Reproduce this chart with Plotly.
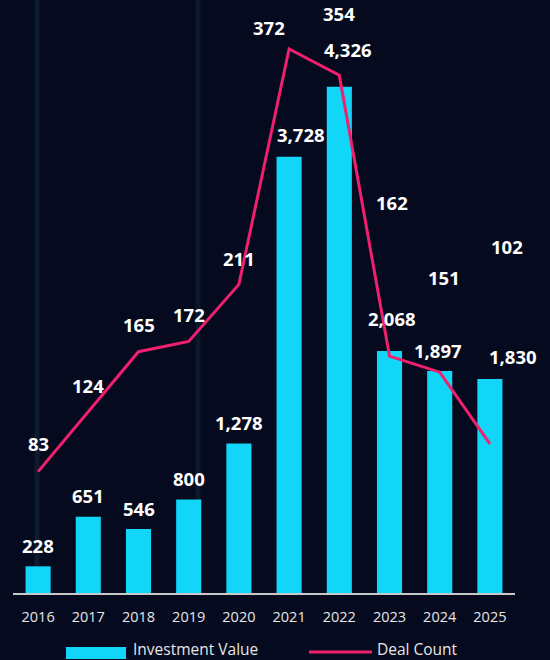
import plotly.graph_objects as go

# ---- data ----
years = ["2016", "2017", "2018", "2019", "2020", "2021", "2022", "2023", "2024", "2025"]
investment_value = [228, 651, 546, 800, 1278, 3728, 4326, 2068, 1897, 1830]
deal_count = [83, 124, 165, 172, 211, 372, 354, 162, 151, 102]

# ---- label placement tweaks (pixels) ----
bar_label_dx = [0, 0, 0, 0, 0, 12, 9, 2, -2, 23]
bar_label_dy = [21, 21, 21, 21, 21, 22, 37, 33, 21, 22]
line_label_dx = [0, 0, 0, 0, 0, -20, 0, 2, 4, 17]
line_label_dy = [28, 26, 27, 27, 26, 21, 62, 154, 95, 197]

BG = "#050a1e"
CYAN = "#12d6f7"
PINK = "#f0206e"
FONT = "Open Sans"
LABEL_SIZE = 18.5

W, H = 550, 660
ML, MR, MT, MB = 13, 35, 8, 67
PW, PH = W - ML - MR, H - MT - MB

def px(xp):
    return (xp - ML) / PW

def py(yp):
    return (H - MB - yp) / PH

fig = go.Figure()
fig.add_trace(go.Bar(
    x=years, y=investment_value, name="Investment Value",
    marker=dict(color=CYAN, line=dict(width=0)), yaxis="y",
    hoverinfo="skip",
))
fig.add_trace(go.Scatter(
    x=years, y=deal_count, name="Deal Count", mode="lines",
    line=dict(color=PINK, width=3), yaxis="y2", hoverinfo="skip",
))

annotations = []
for i, v in enumerate(investment_value):
    annotations.append(dict(
        x=i, y=v, xref="x", yref="y", text=f"{v:,}", showarrow=False,
        xanchor="center", yanchor="middle",
        xshift=bar_label_dx[i], yshift=bar_label_dy[i],
        font=dict(family=FONT, size=LABEL_SIZE, color="#ffffff", weight="bold"),
    ))
for i, v in enumerate(deal_count):
    annotations.append(dict(
        x=i, y=v, xref="x", yref="y2", text=f"{v:,}", showarrow=False,
        xanchor="center", yanchor="middle",
        xshift=line_label_dx[i], yshift=line_label_dy[i],
        font=dict(family=FONT, size=LABEL_SIZE, color="#ffffff", weight="bold"),
    ))

shapes = [
    # faint background stripes
    dict(type="line", xref="paper", yref="paper", x0=px(37), x1=px(37), y0=py(0), y1=py(590),
         line=dict(color="rgba(45,95,110,0.20)", width=5), layer="below"),
    dict(type="line", xref="paper", yref="paper", x0=px(198), x1=px(198), y0=py(0), y1=py(590),
         line=dict(color="rgba(45,95,110,0.16)", width=5), layer="below"),
    # legend swatches
    dict(type="rect", xref="paper", yref="paper", x0=px(66), x1=px(126), y0=py(659), y1=py(647),
         fillcolor=CYAN, line=dict(width=0)),
    dict(type="line", xref="paper", yref="paper", x0=px(309), x1=px(372), y0=py(652), y1=py(652),
         line=dict(color=PINK, width=3)),
]
annotations += [
    dict(xref="paper", yref="paper", x=px(131), y=py(649), text="Investment Value",
         showarrow=False, xanchor="left", yanchor="middle",
         font=dict(family=FONT, size=15.5, color="#e6e6e6")),
    dict(xref="paper", yref="paper", x=px(375), y=py(649), text="Deal Count",
         showarrow=False, xanchor="left", yanchor="middle",
         font=dict(family=FONT, size=15.5, color="#e6e6e6")),
]

fig.update_layout(
    width=W, height=H,
    margin=dict(l=ML, r=MR, t=MT, b=MB),
    paper_bgcolor=BG, plot_bgcolor="rgba(0,0,0,0)",
    showlegend=False, bargap=0.5,
    font=dict(family=FONT, color="#e6e6e6"),
    xaxis=dict(
        type="category", range=[-0.5, len(years) - 0.5],
        showgrid=False, zeroline=False,
        showline=True, linecolor="#c8c8c8", linewidth=2,
        ticks="outside", ticklen=10, tickcolor="rgba(0,0,0,0)",
        tickfont=dict(family=FONT, size=14.5, color="#e6e6e6"),
        fixedrange=True,
    ),
    yaxis=dict(range=[0, 5000], visible=False, showgrid=False, fixedrange=True),
    yaxis2=dict(range=[0, 400], overlaying="y", visible=False, showgrid=False, fixedrange=True),
    annotations=annotations, shapes=shapes,
)

fig.write_html("out.html")
